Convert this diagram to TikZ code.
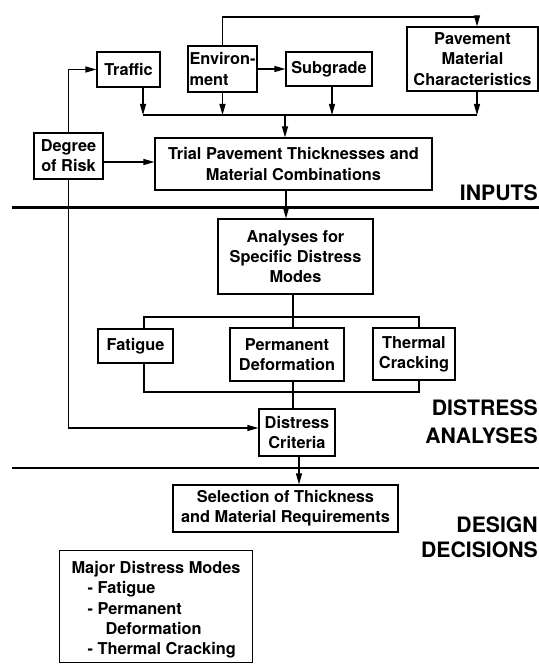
\documentclass[tikz,border=0pt]{standalone}
\usepackage{fontspec}
\setmainfont{TeX Gyre Heros}
\usetikzlibrary{arrows.meta}
\begin{document}
\begin{tikzpicture}[x=1bp,y=-1bp,
  box/.style={draw, line width=1.2bp, inner sep=0pt, align=center,
    font=\bfseries\fontsize{16.4}{20.3}\selectfont},
  conn/.style={line width=1.2bp},
  arr/.style={conn, -{Triangle[length=11bp,width=6bp]}},
  sepline/.style={line width=2.4bp},
  heading/.style={anchor=base east, inner sep=0pt,
    font=\bfseries\fontsize{21.3}{26}\selectfont}]
\useasboundingbox (0,0) rectangle (539,667);

% input boxes
\node[box, minimum width=63bp, minimum height=35bp] (traffic) at (128.5,69.5) {Traffic};
\node[box, minimum width=69bp, minimum height=46bp, align=left] (env) at (222.5,69) {Environ-\\ment};
\node[box, minimum width=86bp, minimum height=34bp] (subgrade) at (329,69) {Subgrade};
\node[box, minimum width=131bp, minimum height=64bp] (pmc) at (472.5,59) {Pavement\\Material\\Characteristics};
\node[box, minimum width=69bp, minimum height=46bp] (risk) at (68.5,156) {Degree\\of Risk};
\node[box, minimum width=277bp, minimum height=52bp] (trial) at (293.5,164) {Trial Pavement Thicknesses and\\Material Combinations};

% distress analyses
\node[box, minimum width=155bp, minimum height=75bp] (analyses) at (295.5,256.5) {Analyses for\\Specific Distress\\Modes};
\node[box, minimum width=75bp, minimum height=34bp] (fatigue) at (135.5,346) {Fatigue};
\node[box, minimum width=114bp, minimum height=53bp] (perm) at (287,354.5) {Permanent\\Deformation};
\node[box, minimum width=82bp, minimum height=52bp] (thermal) at (414,354) {Thermal\\Cracking};
\node[box, minimum width=76bp, minimum height=47bp] (criteria) at (297,432.5) {Distress\\Criteria};

% design decisions
\node[box, minimum width=225bp, minimum height=47bp] (selection) at (285.5,508.5) {Selection of Thickness\\and Material Requirements};
\node[box, anchor=north west, align=left, inner xsep=12bp] (modes) at (59,550)
  {\rule{0pt}{23bp}Major Distress Modes\\
   \hspace*{16bp}- Fatigue\\
   \hspace*{16bp}- Permanent\\
   \hspace*{34bp}Deformation\\
   \hspace*{16bp}- Thermal Cracking\rule[-8bp]{0pt}{0pt}};

% stage separators and labels
\draw[sepline] (12,207.5) -- (539,207.5);
\draw[sepline] (12,468) -- (539,468);
\node[heading] (inputs) at (538,200) {INPUTS};
\node[heading] (distress) at (538,415) {DISTRESS};
\node[heading] (analyseslbl) at (538,443) {ANALYSES};
\node[heading] (design) at (538,532) {DESIGN};
\node[heading] (decisions) at (538,557) {DECISIONS};

% collector feeding the trial design
\coordinate (busL) at (143,115);
\coordinate (bus) at (285,115);
\coordinate (busR) at (477,115);
\coordinate (top) at (477,17);
\draw[conn] (busL) -- (busR);
\draw[arr] (143,0 |- traffic.south) -- (busL);
\draw[arr] (env.south) -- (env.south |- bus);
\draw[arr] (332,0 |- subgrade.south) -- (332,0 |- bus);
\draw[arr] (477,0 |- pmc.south) -- (busR);
\draw[arr] (bus) -- (bus |- trial.north);
\draw[arr] (env.north) |- (top) -- (top |- pmc.north);
\draw[arr] (env.east) -- (subgrade.west);

% degree of risk links
\draw[arr] (risk.north) |- (traffic.west);
\draw[arr] (risk.east |- 0,162) -- (trial.west |- 0,162);
\draw[arr] (risk.south) |- (criteria.west |- 0,428);

% analysis chain
\draw[arr] (286,0 |- trial.south) -- (286,0 |- analyses.north);
\draw[conn] (293,0 |- analyses.south) -- (293,0 |- perm.north);
\draw[conn] (293,0 |- perm.south) -- (293,0 |- criteria.north);
\draw[conn] (144,0 |- fatigue.north) |- (419,317) -- (419,0 |- thermal.north);
\draw[conn] (144,0 |- fatigue.south) |- (419,392) -- (419,0 |- thermal.south);
\draw[arr] (299,0 |- criteria.south) -- (299,0 |- selection.north);
\end{tikzpicture}
\end{document}
